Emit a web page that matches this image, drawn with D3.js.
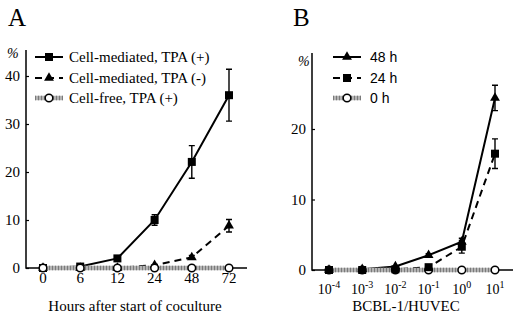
<!DOCTYPE html>
<html>
<head>
<meta charset="utf-8">
<script src="https://cdn.jsdelivr.net/npm/d3@7"></script>
<style>
  body { margin: 0; background: #fff; }
  svg { display: block; }
  .serif { font-family: 'Liberation Serif', 'DejaVu Serif', serif; }
  .sans { font-family: 'Liberation Sans', Arial, sans-serif; }
</style>
</head>
<body>
<div id="chart"></div>
<script>
// Panel A data
const hourCats = ['0', '6', '12', '24', '48', '72']
const tpaPlus = [0, 0.3, 2.0, 10.0, 22.1, 36.0]
const tpaPlusErr = [0, 0, 0.4, 1.1, 3.4, 5.4]
const tpaMinus = [0, 0, 0, 0.6, 2.2, 8.8]
const tpaMinusErr = [0, 0, 0, 0, 0.4, 1.3]
const cellFree = [0, 0, 0, 0, 0, 0]
const yTicksA = [0, 10, 20, 30, 40]

// Panel B data
const ratioExp = ['-4', '-3', '-2', '-1', '0', '1']
const h48 = [0, 0.1, 0.5, 2.1, 4.0, 24.4]
const h48Err = [0, 0, 0, 0.2, 0.5, 1.8]
const h24 = [0, 0, 0.1, 0.4, 3.3, 16.5]
const h24Err = [0, 0, 0, 0, 0.9, 2.1]
const h0 = [0, 0, 0, 0, 0, 0]
const yTicksB = [0, 10, 20]

const legendA = ['Cell-mediated, TPA (+)', 'Cell-mediated, TPA (-)', 'Cell-free, TPA (+)']
const legendB = ['48 h', '24 h', '0 h']

const svg = d3.select('#chart')
    .append('svg')
    .attr('width', 519)
    .attr('height', 320)

svg.append('rect').attr('width', 519).attr('height', 320).attr('fill', '#fff')

// marker drawing
function marker(g, type, x, y){
    if (type === 'square'){
        g.append('rect')
            .attr('x', x - 4).attr('y', y - 4)
            .attr('width', 8).attr('height', 8)
            .attr('fill', '#000')
    } else if (type === 'triangle'){
        g.append('path')
            .attr('d', d3.symbol().type(d3.symbolTriangle).size(42)())
            .attr('transform', `translate(${x},${y})`)
            .attr('fill', '#000')
    } else {
        g.append('circle')
            .attr('cx', x).attr('cy', y).attr('r', 3.8)
            .attr('fill', '#fff')
            .attr('stroke', '#000')
            .attr('stroke-width', 1.5)
    }
}

function greyLine(g, d){
    g.append('path').attr('d', d)
        .attr('fill', 'none').attr('stroke', '#b4b4b4').attr('stroke-width', 4.5)
    g.append('path').attr('d', d)
        .attr('fill', 'none').attr('stroke', '#7a7a7a').attr('stroke-width', 4.5)
        .attr('stroke-dasharray', '1,2')
}

function panel(cfg){
    const g = svg.append('g')
    const x = d3.scalePoint().domain(cfg.cats).range(cfg.xRange)
    const y = d3.scaleLinear().domain(cfg.yDomain).range(cfg.yRange)

    // axes
    g.append('path')
        .attr('d', `M${cfg.axisX},${cfg.axisTop}V${y(0)}H${cfg.axisRight}`)
        .attr('fill', 'none').attr('stroke', '#000').attr('stroke-width', 1.5)

    const yAxis = d3.axisRight(y).tickValues(cfg.yTicks).tickSize(3).tickFormat('')
    g.append('g')
        .attr('transform', `translate(${cfg.axisX},0)`)
        .call(yAxis)
        .call(a => a.select('.domain').remove())
        .call(a => a.selectAll('line').attr('stroke-width', 1.2))

    g.selectAll('.ylab')
        .data(cfg.yTicks)
        .join('text')
        .attr('class', 'serif')
        .attr('x', cfg.axisX - 6)
        .attr('y', d => y(d) + 5)
        .attr('text-anchor', 'end')
        .attr('font-size', 15)
        .text(d => d)

    g.append('text')
        .attr('class', 'serif')
        .attr('x', cfg.pctX).attr('y', cfg.pctY)
        .attr('font-style', 'italic')
        .attr('font-size', 14)
        .text('%')

    g.append('text')
        .attr('class', 'serif')
        .attr('x', cfg.letterX).attr('y', 26)
        .attr('font-size', 25)
        .text(cfg.letter)

    cfg.drawTicks(g, x, y)

    g.append('text')
        .attr('class', 'serif')
        .attr('x', cfg.titleX).attr('y', 311)
        .attr('text-anchor', 'middle')
        .attr('font-size', 15)
        .text(cfg.title)

    // series
    cfg.series.forEach(s => {
        const line = d3.line()
            .x((d, i) => x(cfg.cats[i]))
            .y(d => y(d))
        const pts = s.values
        if (s.style === 'grey'){
            greyLine(g, line(pts))
        } else {
            g.append('path')
                .attr('d', line(pts))
                .attr('fill', 'none')
                .attr('stroke', '#000')
                .attr('stroke-width', 2)
                .attr('stroke-dasharray', s.style === 'dash' ? '7,5' : null)
        }
        if (s.err){
            pts.forEach((v, i) => {
                const e = s.err[i]
                if (!e) return
                const cx = x(cfg.cats[i])
                g.append('path')
                    .attr('d', `M${cx - 3},${y(v + e)}H${cx + 3}M${cx},${y(v + e)}V${y(v - e)}M${cx - 3},${y(v - e)}H${cx + 3}`)
                    .attr('fill', 'none').attr('stroke', '#000').attr('stroke-width', 1.4)
            })
        }
        s.marks = pts.map((v, i) => [x(cfg.cats[i]), y(v)])
    })
    cfg.markerOrder.forEach(k => {
        const s = cfg.series[k]
        s.marks.forEach(p => marker(g, s.marker, p[0], p[1]))
    })

    // legend
    cfg.series.forEach((s, i) => {
        const ly = cfg.legY[i]
        const x0 = cfg.legX, x1 = cfg.legX + 28
        const d = `M${x0},${ly}H${x1}`
        if (s.style === 'grey'){
            greyLine(g, d)
        } else {
            g.append('path').attr('d', d)
                .attr('stroke', '#000').attr('stroke-width', 2)
                .attr('stroke-dasharray', s.style === 'dash' ? '7,5' : null)
        }
        marker(g, s.marker, (x0 + x1) / 2, ly)
        g.append('text')
            .attr('class', cfg.legFont)
            .attr('x', cfg.legTextX).attr('y', ly + 5)
            .attr('font-size', cfg.legSize)
            .text(cfg.legend[i])
    })
}

panel({
    letter: 'A', letterX: 8,
    cats: hourCats,
    xRange: [43, 229],
    yDomain: [0, 40], yRange: [268, 76], yTicks: yTicksA,
    axisX: 26, axisTop: 50, axisRight: 247,
    pctX: 7, pctY: 58,
    title: 'Hours after start of coculture', titleX: 135,
    drawTicks: (g, x, y) => {
        g.selectAll('.xlab')
            .data(hourCats)
            .join('text')
            .attr('class', 'serif')
            .attr('x', d => x(d))
            .attr('y', 283)
            .attr('text-anchor', 'middle')
            .attr('font-size', 15)
            .text(d => d)
    },
    series: [
        {values: tpaPlus, err: tpaPlusErr, style: 'solid', marker: 'square'},
        {values: tpaMinus, err: tpaMinusErr, style: 'dash', marker: 'triangle'},
        {values: cellFree, style: 'grey', marker: 'circle'}
    ],
    markerOrder: [1, 0, 2],
    legend: legendA,
    legX: 35, legTextX: 69, legY: [57, 78, 98],
    legFont: 'serif', legSize: 15
})

panel({
    letter: 'B', letterX: 293,
    cats: ratioExp,
    xRange: [329, 495],
    yDomain: [0, 20], yRange: [270, 129], yTicks: yTicksB,
    axisX: 312, axisTop: 53, axisRight: 513,
    pctX: 298, pctY: 66,
    title: 'BCBL-1/HUVEC', titleX: 406,
    drawTicks: (g, x, y) => {
        const t = g.selectAll('.xlab')
            .data(ratioExp)
            .join('text')
            .attr('class', 'serif')
            .attr('x', d => x(d))
            .attr('y', 294)
            .attr('text-anchor', 'middle')
            .attr('font-size', 14)
        t.append('tspan').text('10')
        t.append('tspan').attr('dy', -6).attr('font-size', 10).text(d => d)
    },
    series: [
        {values: h48, err: h48Err, style: 'solid', marker: 'triangle'},
        {values: h24, err: h24Err, style: 'dash', marker: 'square'},
        {values: h0, style: 'grey', marker: 'circle'}
    ],
    markerOrder: [2, 0, 1],
    legend: legendB,
    legX: 333, legTextX: 370, legY: [57, 78, 98],
    legFont: 'sans', legSize: 14
})
</script>
</body>
</html>
